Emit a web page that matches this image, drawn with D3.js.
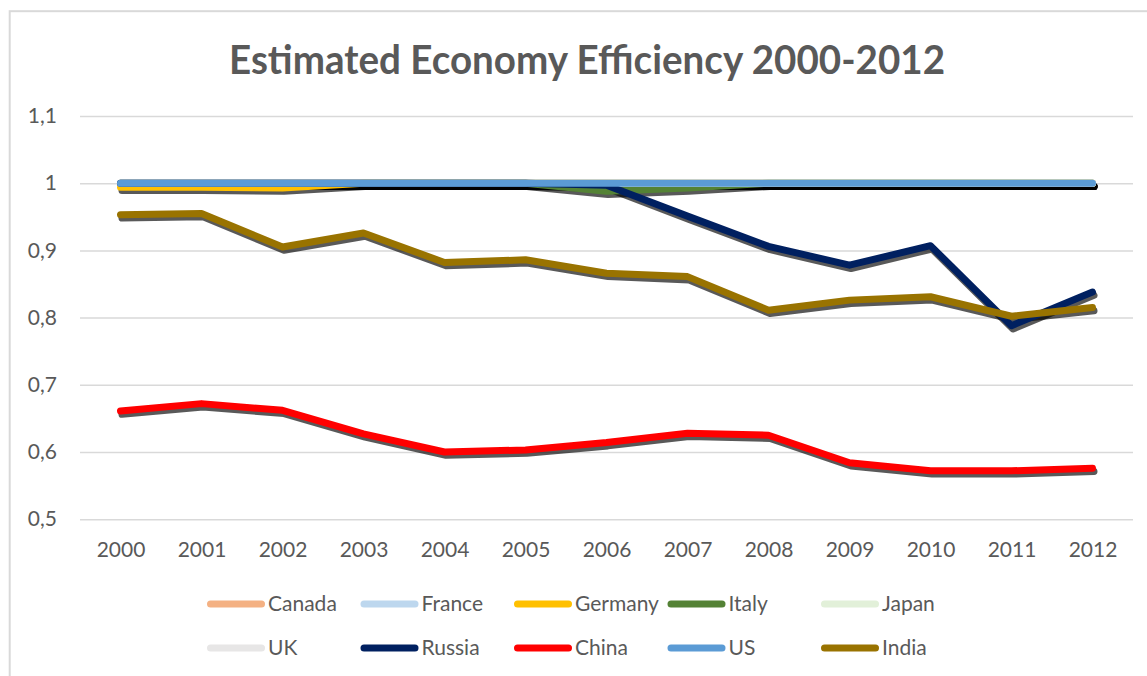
<!DOCTYPE html>
<html>
<head>
<meta charset="utf-8">
<script src="https://cdn.jsdelivr.net/npm/d3@7"></script>
<style>
  html, body { margin: 0; padding: 0; background: #ffffff; }
  svg { display: block; }
  text { font-family: Lato, "Open Sans", sans-serif; fill: #595959; }
</style>
</head>
<body>
<svg id="chart" width="1147" height="676"></svg>
<script>
// Years on the category axis
const years = ["2000","2001","2002","2003","2004","2005","2006","2007","2008","2009","2010","2011","2012"];

// Efficiency scores per country
const canada  = [1, 1, 1, 1, 1, 1, 1, 1, 1, 1, 1, 1, 1];
const france  = [1, 1, 1, 1, 1, 1, 1, 1, 1, 1, 1, 1, 1];
const germany = [0.994, 0.994, 0.993, 1, 1, 1, 1, 1, 1, 1, 1, 1, 1];
const italy   = [1, 1, 1, 1, 1, 1, 0.988, 0.993, 1, 1, 1, 1, 1];
const japan   = [1, 1, 1, 1, 1, 1, 1, 1, 1, 1, 1, 1, 1];
const uk      = [1, 1, 1, 1, 1, 1, 1, 1, 1, 1, 1, 1, 1];
const russia  = [1, 1, 1, 1, 1, 1, 0.997, 0.951, 0.906, 0.878, 0.907, 0.788, 0.838];
const china   = [0.661, 0.672, 0.662, 0.627, 0.600, 0.603, 0.614, 0.628, 0.625, 0.584, 0.572, 0.572, 0.576];
const us      = [1, 1, 1, 1, 1, 1, 1, 1, 1, 1, 1, 1, 1];
const india   = [0.953, 0.955, 0.905, 0.926, 0.882, 0.886, 0.866, 0.861, 0.811, 0.826, 0.831, 0.802, 0.815];

const countryNames = ["Canada","France","Germany","Italy","Japan","UK","Russia","China","US","India"];
const countryValues = [canada, france, germany, italy, japan, uk, russia, china, us, india];
const countryColors = ["#F4B183","#BDD7EE","#FFC000","#548235","#E2F0D9","#E7E6E6","#002060","#FF0000","#5B9BD5","#997300"];

// Value axis ticks
const yTicks = [0.5, 0.6, 0.7, 0.8, 0.9, 1, 1.1];
const yTickLabels = ["0,5","0,6","0,7","0,8","0,9","1","1,1"];

const chartTitle = "Estimated Economy Efficiency 2000-2012";

const series = countryNames.map((name, i) => ({ name, values: countryValues[i], color: countryColors[i] }));

const svg = d3.select("#chart");

// Chart area frame
svg.append("rect")
  .attr("x", 9.7).attr("y", 11.2)
  .attr("width", 1400).attr("height", 900)
  .attr("fill", "#ffffff")
  .attr("stroke", "#D9D9D9").attr("stroke-width", 2);

const plot = { left: 80, right: 1133, top: 116, bottom: 519.2 };

const x = d3.scalePoint().domain(years).range([plot.left, plot.right]).padding(0.5);
const y = d3.scaleLinear().domain([0.5, 1.1]).range([plot.bottom, plot.top]);

// Title
svg.append("text")
  .attr("x", 587).attr("y", 74)
  .attr("text-anchor", "middle")
  .attr("font-size", 40).attr("font-weight", "bold")
  .attr("textLength", 716).attr("lengthAdjust", "spacingAndGlyphs")
  .text(chartTitle);

// Horizontal gridlines and value labels
const yAxis = svg.append("g")
  .attr("transform", `translate(${plot.left},0)`)
  .call(d3.axisLeft(y)
    .tickValues(yTicks)
    .tickFormat((d, i) => yTickLabels[i])
    .tickSize(-(plot.right - plot.left))
    .tickPadding(23));
yAxis.select(".domain").remove();
yAxis.selectAll(".tick line").attr("stroke", "#D9D9D9").attr("stroke-width", 1.5);
yAxis.selectAll(".tick text").attr("font-size", 21).attr("fill", "#595959");

// Category labels
const xAxis = svg.append("g")
  .attr("transform", `translate(0,${plot.bottom})`)
  .call(d3.axisBottom(x).tickSize(0).tickPadding(23));
xAxis.select(".domain").remove();
xAxis.selectAll(".tick text").attr("font-size", 21).attr("fill", "#595959");

const line = d3.line()
  .x((d, i) => x(years[i]))
  .y(d => y(d));

// Drop shadows sit beneath every line
const shadowLayer = svg.append("g").attr("transform", "translate(1.5,3.3)");
shadowLayer.selectAll("path")
  .data(series)
  .join("path")
  .attr("d", d => line(d.values))
  .attr("fill", "none")
  .attr("stroke", "#000000")
  .attr("stroke-opacity", 0.65)
  .attr("stroke-width", 7)
  .attr("stroke-linejoin", "round")
  .attr("stroke-linecap", "round");

const lineLayer = svg.append("g");
lineLayer.selectAll("path")
  .data(series)
  .join("path")
  .attr("d", d => line(d.values))
  .attr("fill", "none")
  .attr("stroke", d => d.color)
  .attr("stroke-width", 7)
  .attr("stroke-linejoin", "round")
  .attr("stroke-linecap", "round");

// Legend: two rows of five
const legend = svg.append("g");
const legendItems = legend.selectAll("g")
  .data(series)
  .join("g")
  .attr("transform", (d, i) => `translate(${207 + (i % 5) * 153.5},${604 + Math.floor(i / 5) * 44})`);
legendItems.append("line")
  .attr("x1", 3.5).attr("x2", 54.5)
  .attr("y1", 0).attr("y2", 0)
  .attr("stroke", d => d.color)
  .attr("stroke-width", 7)
  .attr("stroke-linecap", "round");
legendItems.append("text")
  .attr("x", 61).attr("y", 0)
  .attr("dy", "0.35em")
  .attr("font-size", 21)
  .text(d => d.name);
</script>
</body>
</html>
